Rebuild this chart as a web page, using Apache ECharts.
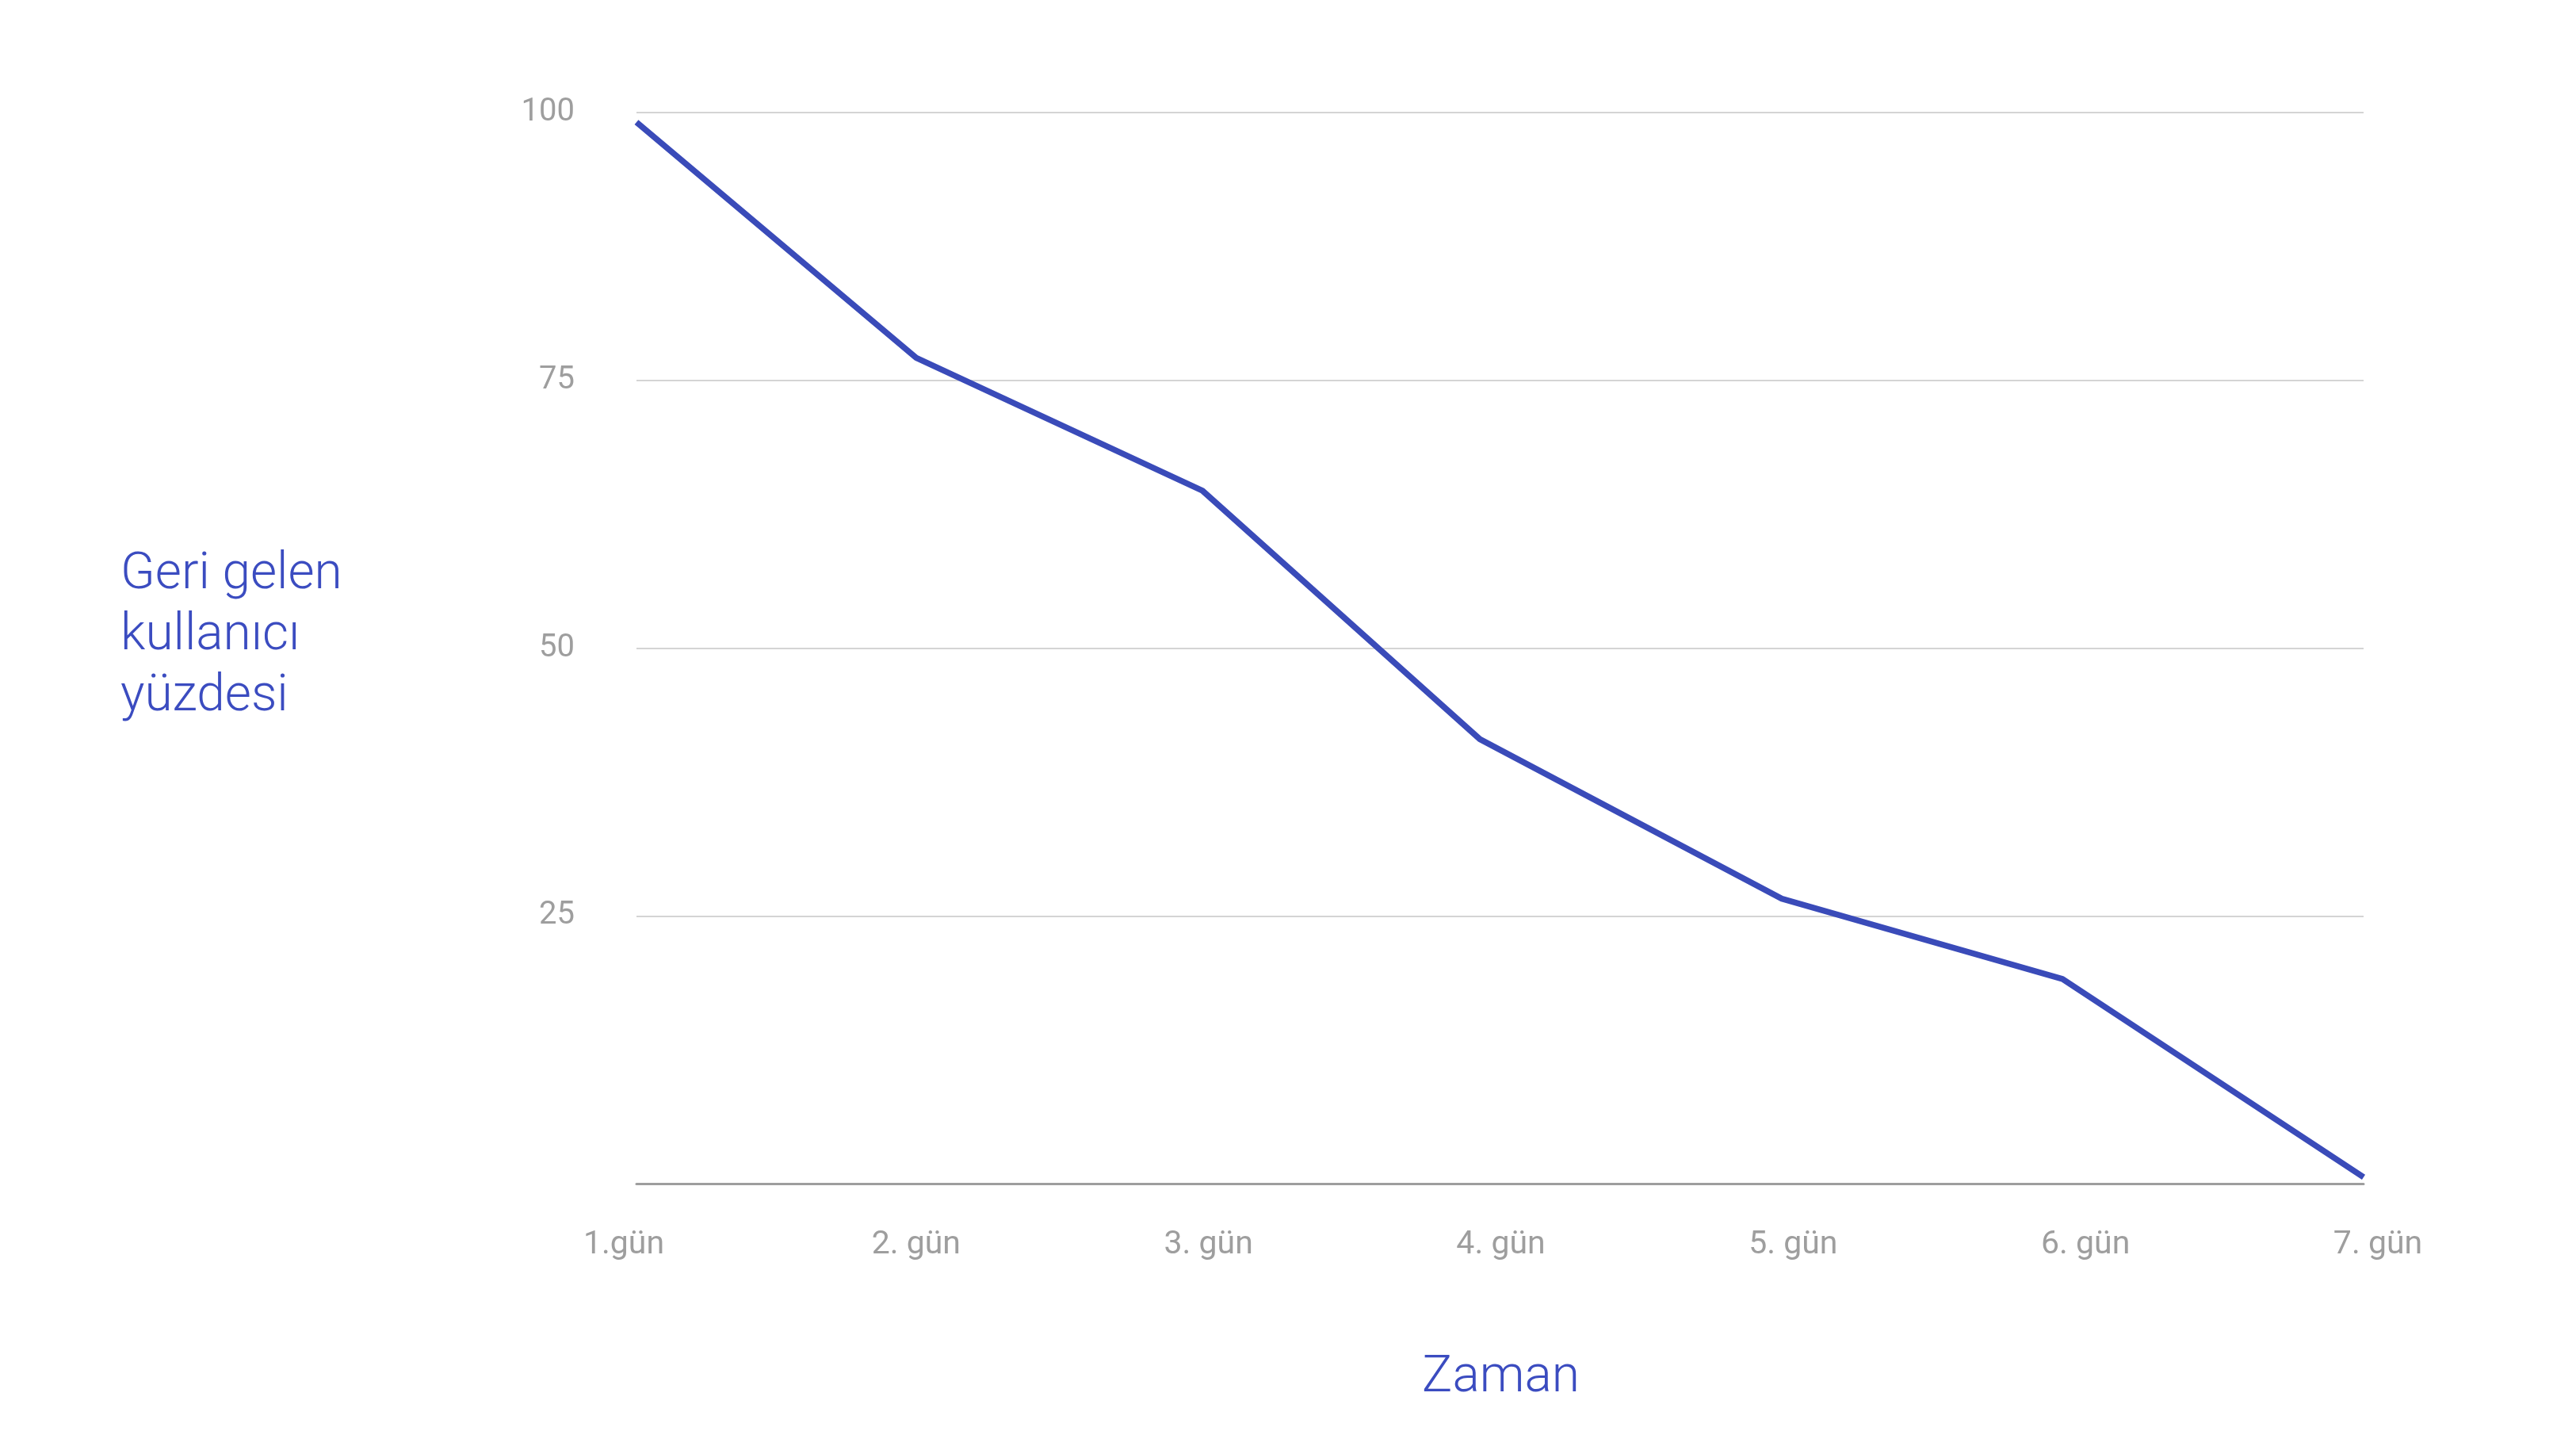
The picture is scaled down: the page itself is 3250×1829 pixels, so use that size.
<!DOCTYPE html>
<html>
<head>
<meta charset="utf-8">
<style>
  html, body { margin: 0; padding: 0; background: #fff; }
  #main { width: 3250px; height: 1829px; }
</style>
<script src="https://cdn.jsdelivr.net/npm/echarts@6/dist/echarts.min.js"></script>
</head>
<body>
<div id="main"></div>
<script>
// gün etiketleri ve geri gelen kullanıcı yüzdesi
var days = ['1.gün', '2. gün', '3. gün', '4. gün', '5. gün', '6. gün', '7. gün'];
// noktaların gün ekseni üzerindeki yeri (orijinal çizimde tam eşit aralıklı değil)
var dayPos = [0, 0.972, 1.966, 2.930, 3.979, 4.954, 6];
var returnRate = [99.1, 77.1, 64.7, 41.5, 26.6, 19.1, 0.6];
var yTicks = [0, 25, 50, 75, 100];

var yTitle = 'Geri gelen\nkullanıcı\nyüzdesi';
var xTitle = 'Zaman';

var lineColor = '#3a4bb9';
var titleColor = '#3b4cc0';
var labelColor = '#9e9e9e';

var chart = echarts.init(document.getElementById('main'));

var points = dayPos.map(function (d, i) {
    return [d, returnRate[i]];
});

var option = {
    backgroundColor: '#ffffff',
    animation: false,
    textStyle: { fontFamily: 'Roboto' },
    // y ekseni başlığı (üç satır, sola yaslı)
    title: {
        text: yTitle,
        left: 147,
        top: 682,
        textStyle: {
            color: titleColor, fontSize: 64, lineHeight: 77,
            fontFamily: 'Roboto', fontWeight: 300
        }
    },
    grid: [
        { left: 803, right: 268, top: 142, bottom: 336 },
        // sadece gün etiketleri için
        { left: 787, right: 250, top: 142, bottom: 336 }
    ],
    xAxis: [{
        type: 'value',
        gridIndex: 0,
        min: 0,
        max: days.length - 1,
        axisLine: { show: true, lineStyle: { color: labelColor, width: 3 } },
        axisTick: { show: false },
        axisLabel: { show: false },
        splitLine: { show: false }
    }, {
        type: 'category',
        gridIndex: 1,
        data: days,
        boundaryGap: false,
        name: xTitle,
        nameLocation: 'middle',
        nameGap: 214,
        nameTextStyle: { color: titleColor, fontSize: 64, fontFamily: 'Roboto', fontWeight: 300 },
        axisLine: { show: false },
        axisTick: { show: false },
        axisLabel: { color: labelColor, fontSize: 41, margin: 57, fontFamily: 'Roboto' },
        splitLine: { show: false }
    }],
    yAxis: [{
        type: 'value',
        gridIndex: 0,
        min: yTicks[0],
        max: yTicks[yTicks.length - 1],
        interval: 25,
        axisLine: { show: false },
        axisTick: { show: false },
        axisLabel: {
            color: labelColor, fontSize: 40, margin: 78, fontFamily: 'Roboto',
            formatter: function (v) { return v === 0 ? '' : String(v); }
        },
        splitLine: { lineStyle: { color: '#d4d4d4', width: 2 } }
    }, {
        type: 'value',
        gridIndex: 1,
        show: false
    }],
    series: [{
        type: 'line',
        xAxisIndex: 0,
        yAxisIndex: 0,
        data: points,
        symbol: 'none',
        lineStyle: { color: lineColor, width: 7.5 }
    }]
};

chart.setOption(option);
</script>
</body>
</html>
